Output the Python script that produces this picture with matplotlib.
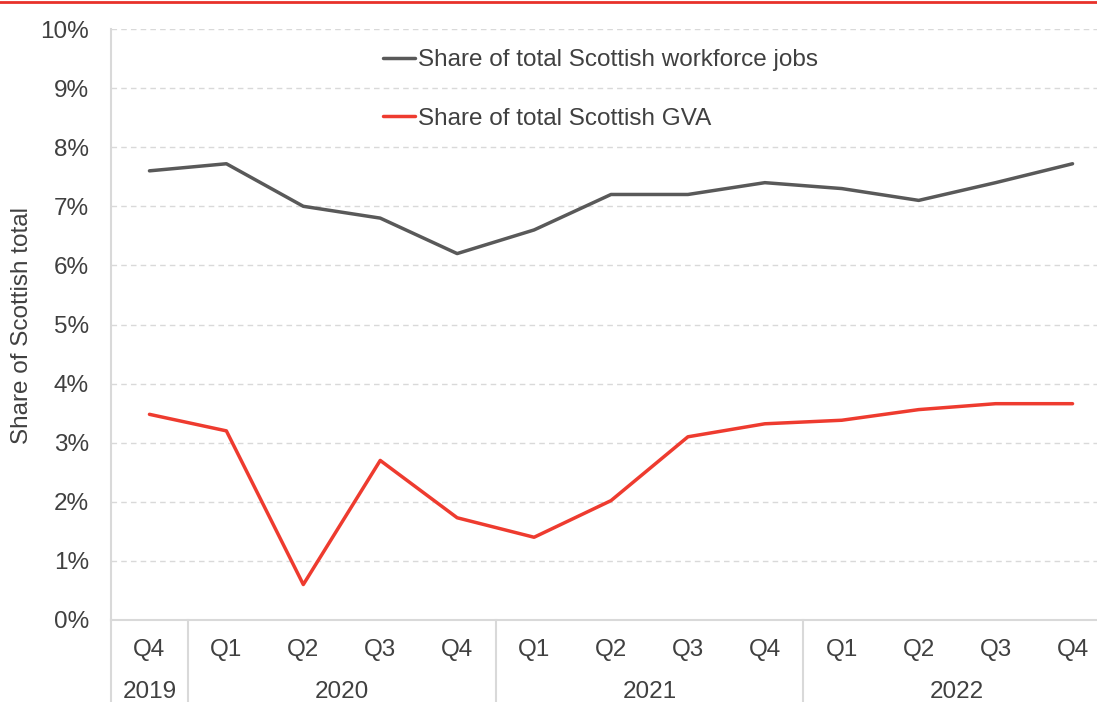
import numpy as np
import matplotlib
matplotlib.use("Agg")
import matplotlib.pyplot as plt
from matplotlib.lines import Line2D
from matplotlib.ticker import FuncFormatter, MultipleLocator

plt.rcParams['font.family'] = ['Liberation Sans', 'DejaVu Sans']

# quarterly shares (%)
quarters = ['Q4', 'Q1', 'Q2', 'Q3', 'Q4', 'Q1', 'Q2', 'Q3', 'Q4', 'Q1', 'Q2', 'Q3', 'Q4']
years = ['2019', '2020', '2021', '2022']
year_centres = [0, 2.5, 6.5, 10.5]
year_breaks = [0.5, 4.5, 8.5]
jobs_share = [7.6, 7.72, 7.0, 6.8, 6.2, 6.6, 7.2, 7.2, 7.4, 7.3, 7.1, 7.4, 7.72]
gva_share = [3.48, 3.2, 0.6, 2.7, 1.73, 1.4, 2.02, 3.1, 3.32, 3.38, 3.56, 3.66, 3.66]

txt = '#404040'
grey = '#595959'
red = '#EE3B2F'
light = '#D9D9D9'
fs = 17.5

fig = plt.figure(figsize=(10.97, 7.02), dpi=100)
ax = fig.add_axes([111/1097, 82/702, 1000/1097, 591/702])

x = np.arange(len(quarters))
ax.plot(x, jobs_share, color=grey, lw=2.5, solid_capstyle='round',
        label='Share of total Scottish workforce jobs')
ax.plot(x, gva_share, color=red, lw=2.5, solid_capstyle='round',
        label='Share of total Scottish GVA')

ax.set_xlim(-0.5, len(quarters) - 0.5)
ax.set_ylim(0, 10)
ax.yaxis.set_major_locator(MultipleLocator(1))
ax.yaxis.set_major_formatter(FuncFormatter(lambda v, p: f'{v:.0f}%'))
ax.grid(axis='y', color=light, ls=(0, (4, 3)), lw=1)
ax.set_axisbelow(True)

for s in ['top', 'right']:
    ax.spines[s].set_visible(False)
ax.spines['left'].set_color(light)
ax.spines['bottom'].set_color(light)
ax.spines['left'].set_linewidth(1.5)
ax.spines['bottom'].set_linewidth(1.5)

ax.tick_params(axis='y', length=0, labelsize=fs, colors=txt, pad=16)
ax.set_xticks(x)
ax.set_xticklabels(quarters)
ax.tick_params(axis='x', length=0, labelsize=fs, colors=txt, pad=13.5)

# year row under the quarters
trans = ax.get_xaxis_transform()
for yr, c in zip(years, year_centres):
    ax.text(c, -0.122, yr, transform=trans, ha='center', va='center',
            fontsize=fs, color=txt)
for b in [-0.5] + year_breaks:
    ax.plot([b, b], [0, -0.14], transform=trans, color=light, lw=1.5,
            clip_on=False)

fig.text(22/1097, 1 - 325/702, 'Share of Scottish total', rotation=90,
         ha='center', va='center', fontsize=fs, color=txt)

ax.legend(loc='upper left', bbox_to_anchor=(0.272, 0.966), frameon=False,
          fontsize=fs, handlelength=1.32, handletextpad=0.12,
          labelspacing=1.51, labelcolor=txt, borderpad=0, borderaxespad=0)

fig.add_artist(Line2D([0, 1], [1 - 2/702, 1 - 2/702], color='#E8312A', lw=2))

fig.savefig('out.png', dpi=100)
